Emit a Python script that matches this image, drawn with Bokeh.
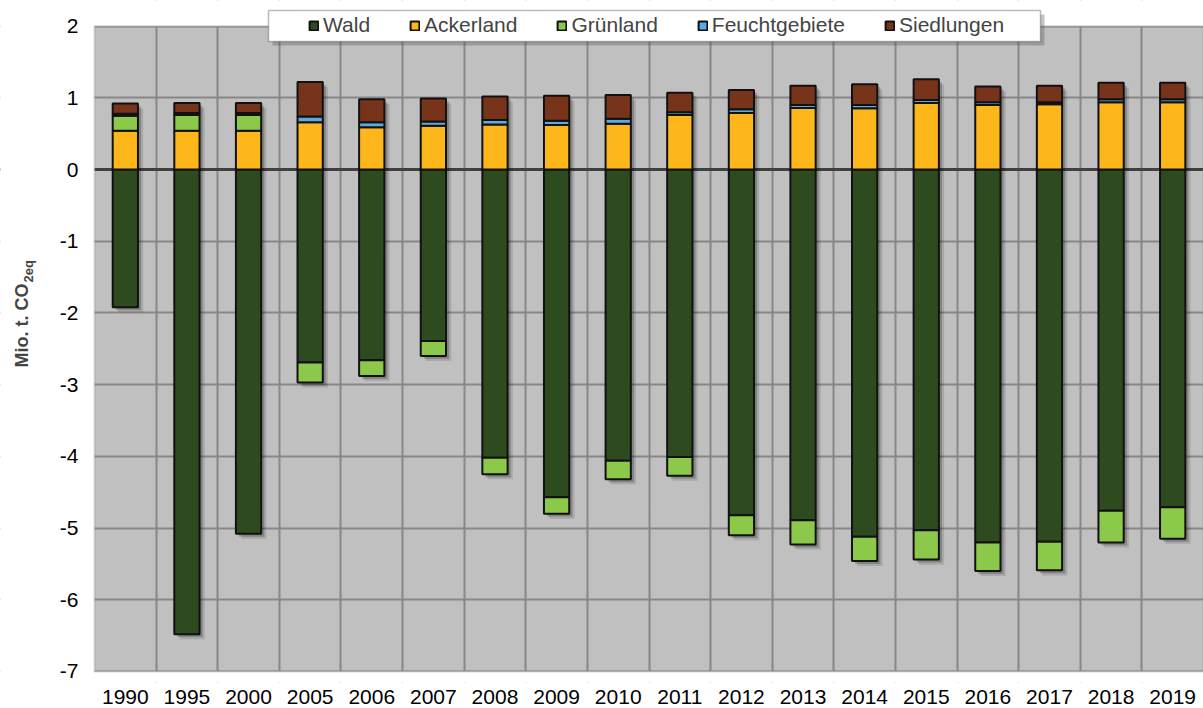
import numpy as np
from bokeh.plotting import figure
from bokeh.models import (ColumnDataSource, Range1d, Legend, LegendItem, Label,
                          BoxAnnotation, FixedTicker, Grid)
from bokeh.transform import dodge
from bokeh.embed import file_html
from bokeh.resources import INLINE

# ---------------- data (Mio. t CO2eq) ----------------
years = ["1990", "1995", "2000", "2005", "2006", "2007", "2008", "2009", "2010",
         "2011", "2012", "2013", "2014", "2015", "2016", "2017", "2018", "2019"]
wald = [-1.92, -6.48, -5.08, -2.69, -2.66, -2.39, -4.02, -4.57, -4.06,
        -4.01, -4.82, -4.89, -5.12, -5.03, -5.20, -5.19, -4.76, -4.71]
ackerland = [0.54, 0.54, 0.54, 0.66, 0.59, 0.61, 0.63, 0.62, 0.64,
             0.76, 0.79, 0.86, 0.855, 0.93, 0.90, 0.91, 0.94, 0.94]
gruenland = [0.21, 0.22, 0.22, -0.28, -0.22, -0.21, -0.23, -0.23, -0.26,
             -0.26, -0.28, -0.34, -0.34, -0.41, -0.40, -0.40, -0.44, -0.44]
feuchtgebiete = [0.03, 0.03, 0.03, 0.08, 0.07, 0.06, 0.06, 0.06, 0.07,
                 0.04, 0.05, 0.04, 0.045, 0.04, 0.04, 0.03, 0.04, 0.04]
siedlungen = [0.14, 0.14, 0.14, 0.48, 0.32, 0.32, 0.33, 0.35, 0.33,
              0.27, 0.27, 0.27, 0.29, 0.29, 0.22, 0.23, 0.23, 0.23]
y_ticks = [-7, -6, -5, -4, -3, -2, -1, 0, 1, 2]
series_names = ["Wald", "Ackerland", "Grünland", "Feuchtgebiete", "Siedlungen"]

# ---------------- styling ----------------
C_WALD = "#2E4B20"
C_ACKER = "#FDB71A"
C_GRUEN = "#8CC94A"
C_FEUCHT = "#5AACDF"
C_SIEDL = "#78341A"
C_BG = "#C0C0C0"
C_GRID = "#878787"
FONT = "Liberation Sans"

# ---------------- stacking (positive up, negative down) ----------------
n = len(years)
x = np.arange(n, dtype=float)
W = np.array(wald); A = np.array(ackerland); G = np.array(gruenland)
F = np.array(feuchtgebiete); S = np.array(siedlungen)
Gp = np.clip(G, 0, None); Gn = np.clip(G, None, 0)

src = ColumnDataSource(dict(
    x=x,
    wald_top=np.zeros_like(W), wald_bot=W,
    ack_bot=np.zeros_like(A), ack_top=A,
    gr_bot=np.where(G >= 0, A, W + Gn), gr_top=np.where(G >= 0, A + Gp, W),
    fe_bot=A + Gp, fe_top=A + Gp + F,
    si_bot=A + Gp + F, si_top=A + Gp + F + S,
    sh_top=A + Gp + F + S, sh_bot=W + Gn,
))

X_LO, X_HI = -0.5, n - 0.5          # plot-area bounds (category edges)
Y_LO, Y_HI = y_ticks[0], y_ticks[-1]

p = figure(width=1203, height=708, output_backend="svg", toolbar_location=None,
           x_range=Range1d(-2.026, X_HI), y_range=Range1d(-7.154, 2.358),
           min_border_left=0, min_border_right=0, min_border_top=0, min_border_bottom=26)
p.background_fill_color = "white"
p.border_fill_color = "white"
p.outline_line_color = None
p.yaxis.visible = False

# grey plot area
p.add_layout(BoxAnnotation(left=X_LO, right=X_HI, bottom=Y_LO, top=Y_HI,
                           fill_color=C_BG, fill_alpha=1, line_color=None, level="image"))

# grid
p.ygrid.ticker = FixedTicker(ticks=y_ticks)
p.ygrid.grid_line_color = C_GRID
p.ygrid.grid_line_width = 2
p.xgrid.ticker = FixedTicker(ticks=[i + 0.5 for i in range(n - 1)])
p.xgrid.grid_line_color = C_GRID
p.xgrid.grid_line_width = 2
p.add_layout(Grid(dimension=1, ticker=FixedTicker(ticks=[0]),
                  grid_line_color="#404040", grid_line_width=3))

# white covers outside the plot area (hide grid lines there)
for kw in (dict(right=X_LO), dict(bottom=Y_HI), dict(top=Y_LO)):
    p.add_layout(BoxAnnotation(fill_color="white", fill_alpha=1, line_color=None,
                               level="underlay", **kw))
# plot-area border
p.add_layout(BoxAnnotation(left=X_LO, right=X_HI, bottom=Y_LO, top=Y_HI,
                           fill_alpha=0, line_color="#7F7F7F", line_width=2, level="underlay"))

# x axis
p.xaxis.ticker = FixedTicker(ticks=list(x))
p.xaxis.major_label_overrides = {float(i): y for i, y in enumerate(years)}
ax = p.xaxis[0]
ax.axis_line_color = None
ax.major_tick_line_color = None
ax.minor_tick_line_color = None
ax.major_label_text_font = FONT
ax.major_label_text_font_size = "21px"
ax.major_label_text_color = "black"
ax.major_label_standoff = 1

# y tick labels (as text)
p.text(x=[X_LO] * len(y_ticks), y=y_ticks, text=[str(v) for v in y_ticks],
       x_offset=-16, text_align="right", text_baseline="middle",
       text_font={"value": FONT}, text_font_size="21px", text_color="black")

# shadows
p.vbar(x=dodge("x", 0.085, range=p.x_range), top=dodge("sh_top", -0.07, range=p.y_range),
       bottom=dodge("sh_bot", -0.07, range=p.y_range), width=0.41, source=src,
       fill_color="black", fill_alpha=0.12, line_color=None)
p.vbar(x=dodge("x", 0.05, range=p.x_range), top=dodge("sh_top", -0.04, range=p.y_range),
       bottom=dodge("sh_bot", -0.04, range=p.y_range), width=0.41, source=src,
       fill_color="black", fill_alpha=0.22, line_color=None)

common = dict(x="x", width=0.41, source=src, line_color="#111111", line_width=2)
r_wald = p.vbar(top="wald_top", bottom="wald_bot", fill_color=C_WALD, **common)
r_ack = p.vbar(top="ack_top", bottom="ack_bot", fill_color=C_ACKER, **common)
r_gr = p.vbar(top="gr_top", bottom="gr_bot", fill_color=C_GRUEN, **common)
r_fe = p.vbar(top="fe_top", bottom="fe_bot", fill_color=C_FEUCHT, **common)
r_si = p.vbar(top="si_top", bottom="si_bot", fill_color=C_SIEDL, **common)

# legend box + shadow (screen units, relative to frame bottom-left)
FB = 682  # frame height in px
p.add_layout(BoxAnnotation(left=272, right=1044, bottom=FB - 45, top=FB - 14,
                           left_units="screen", right_units="screen",
                           bottom_units="screen", top_units="screen",
                           fill_color="#555555", fill_alpha=0.35, line_color=None,
                           level="overlay"))
p.add_layout(BoxAnnotation(left=268, right=1040, bottom=FB - 41, top=FB - 10,
                           left_units="screen", right_units="screen",
                           bottom_units="screen", top_units="screen",
                           fill_color="white", fill_alpha=1.0, line_color="#222222",
                           line_width=1.5, level="overlay"))

legend = Legend(items=[LegendItem(label=nm, renderers=[r]) for nm, r in
                       zip(series_names, [r_wald, r_ack, r_gr, r_fe, r_si])],
                orientation="horizontal", location=(304, FB - 41),
                label_text_font=FONT, label_text_font_size="21px",
                glyph_width=11, glyph_height=11, label_standoff=4, spacing=39,
                padding=4, margin=0, background_fill_alpha=0, border_line_alpha=0)
p.add_layout(legend, "center")

# y-axis title with subscript
p.add_layout(Label(x=21, y=FB - 283, x_units="screen", y_units="screen", text="Mio. t. CO",
                   angle=np.pi / 2, text_align="right", text_baseline="middle",
                   text_font=FONT, text_font_size="18px", text_font_style="bold"))
p.add_layout(Label(x=28, y=FB - 282, x_units="screen", y_units="screen", text="2eq",
                   angle=np.pi / 2, text_align="left", text_baseline="middle",
                   text_font=FONT, text_font_size="13px", text_font_style="bold"))

open("out.html", "w").write(file_html(p, INLINE))
